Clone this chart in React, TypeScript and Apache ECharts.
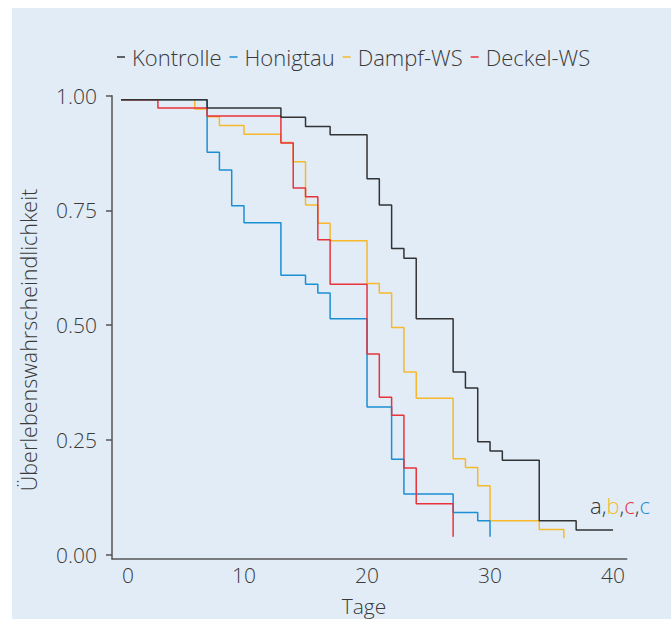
import React, { useEffect, useRef } from "react";
import * as echarts from "echarts";

const seriesNames = ["Kontrolle", "Honigtau", "Dampf-WS", "Deckel-WS"];
const seriesColors = ["#333333", "#1b8fd4", "#f7b82c", "#e8333b"];

const kontrolleDays = [0, 7, 13, 15, 17, 20, 21, 22, 23, 24, 27, 28, 29, 30, 31, 34, 37, 40];
const kontrolleSurv = [0.991, 0.973, 0.953, 0.933, 0.915, 0.819, 0.762, 0.667, 0.646, 0.514, 0.398, 0.363, 0.246, 0.226, 0.206, 0.074, 0.054, 0.054];

const honigtauDays = [0, 7, 8, 9, 10, 13, 15, 16, 17, 20, 22, 23, 27, 29, 30];
const honigtauSurv = [0.991, 0.877, 0.838, 0.76, 0.723, 0.609, 0.589, 0.57, 0.514, 0.322, 0.208, 0.132, 0.092, 0.074, 0.039];

const dampfDays = [0, 6, 7, 8, 10, 13, 14, 15, 16, 17, 20, 21, 22, 23, 24, 27, 28, 29, 30, 34, 36];
const dampfSurv = [0.991, 0.971, 0.954, 0.935, 0.916, 0.898, 0.856, 0.762, 0.722, 0.684, 0.591, 0.57, 0.495, 0.398, 0.341, 0.209, 0.19, 0.15, 0.074, 0.055, 0.036];

const deckelDays = [0, 3, 7, 13, 14, 15, 16, 17, 20, 21, 22, 23, 24, 27];
const deckelSurv = [0.991, 0.973, 0.956, 0.897, 0.799, 0.78, 0.686, 0.589, 0.437, 0.343, 0.304, 0.189, 0.111, 0.039];

const xTicks = [0, 10, 20, 30, 40];
const yTicks = [0, 0.25, 0.5, 0.75, 1];

const FONT = "'Open Sans', 'Noto Sans', sans-serif";
const TEXT = "#3a3a3a";

export default function App() {
  const ref = useRef<HTMLDivElement>(null);
  useEffect(() => {
    document.body.style.margin = "0";
    if (!ref.current) return;
    const chart = echarts.init(ref.current, null, { renderer: "svg" });
    const allDays = [kontrolleDays, honigtauDays, dampfDays, deckelDays];
    const allSurv = [kontrolleSurv, honigtauSurv, dampfSurv, deckelSurv];
    const series = seriesNames.map((name, i) => ({
      name,
      type: "line",
      step: "end",
      showSymbol: false,
      symbol: "none",
      data: allDays[i].map((d, j) => [d, allSurv[i][j]]),
      lineStyle: { color: seriesColors[i], width: 1.5 },
      itemStyle: { color: seriesColors[i] },
      z: [5, 3, 2, 4][i],
    }));
    const rs = (fill: string) => ({ fill, fontSize: 22, fontFamily: FONT, fontWeight: 300 });
    chart.setOption({
      animation: false,
      backgroundColor: "#ffffff",
      textStyle: { fontFamily: FONT },
      graphic: [
        {
          type: "rect",
          z: -10,
          silent: true,
          shape: { x: 12, y: 8, width: 671, height: 619 },
          style: { fill: "#e1ecf7" },
        },
        {
          type: "text",
          x: 28,
          y: 340,
          rotation: Math.PI / 2,
          style: {
            text: "Überlebenswahrscheindlichkeit",
            fontFamily: FONT,
            fontWeight: 300,
            fontSize: 21.5,
            fill: TEXT,
            align: "center",
            verticalAlign: "middle",
          },
        },
        {
          type: "text",
          x: 364,
          y: 606,
          style: {
            text: "Tage",
            fontFamily: FONT,
            fontWeight: 300,
            fontSize: 21,
            fill: TEXT,
            align: "center",
            verticalAlign: "middle",
          },
        },
        {
          type: "text",
          x: 590,
          y: 505,
          style: {
            text: "{a|a}{k|,}{b|b}{k|,}{c|c}{k|,}{d|c}",
            fontFamily: FONT,
            fontSize: 22,
            align: "left",
            verticalAlign: "middle",
            rich: {
              a: rs(seriesColors[0]),
              k: rs(TEXT),
              b: rs(seriesColors[2]),
              c: rs(seriesColors[3]),
              d: rs(seriesColors[1]),
            },
          },
        },
      ],
      legend: {
        left: 112,
        top: 41,
        icon: "rect",
        itemWidth: 8,
        itemHeight: 1.5,
        itemGap: 8,
        data: seriesNames.map((n, i) => ({ name: n, itemStyle: { color: seriesColors[i] } })),
        textStyle: { fontFamily: FONT, fontWeight: 300, fontSize: 22, color: TEXT, padding: [0, 0, 0, 2] },
      },
      grid: { left: 112, right: 44.3, top: 95.7, bottom: 60.3, containLabel: false },
      xAxis: {
        type: "value",
        min: -0.732,
        max: 41.11,
        splitLine: { show: false },
        axisLine: { show: true, onZero: false, lineStyle: { color: "#555555", width: 1.5 } },
        axisTick: { show: false },
        axisLabel: {
          customValues: xTicks,
          margin: 6,
          fontFamily: FONT,
          fontWeight: 300,
          fontSize: 21,
          color: TEXT,
          formatter: (v: number) => (v === 0 ? "{z|0}" : String(v)),
          rich: { z: { padding: [0, 0, 0, 14], fontFamily: FONT, fontWeight: 300, fontSize: 21, color: TEXT } },
        },
      },
      yAxis: {
        type: "value",
        min: -0.0087,
        max: 1,
        splitLine: { show: false },
        axisLine: { show: true, onZero: false, lineStyle: { color: "#555555", width: 1.5 } },
        axisTick: { show: true, customValues: yTicks, length: 6, lineStyle: { color: "#555555", width: 1.5 } },
        axisLabel: {
          customValues: yTicks,
          margin: 15,
          fontFamily: FONT,
          fontWeight: 300,
          fontSize: 21,
          color: TEXT,
          formatter: (v: number) => v.toFixed(2),
        },
      },
      series,
    });
    return () => chart.dispose();
  }, []);
  return <div ref={ref} style={{ width: 671, height: 619 }} />;
}
